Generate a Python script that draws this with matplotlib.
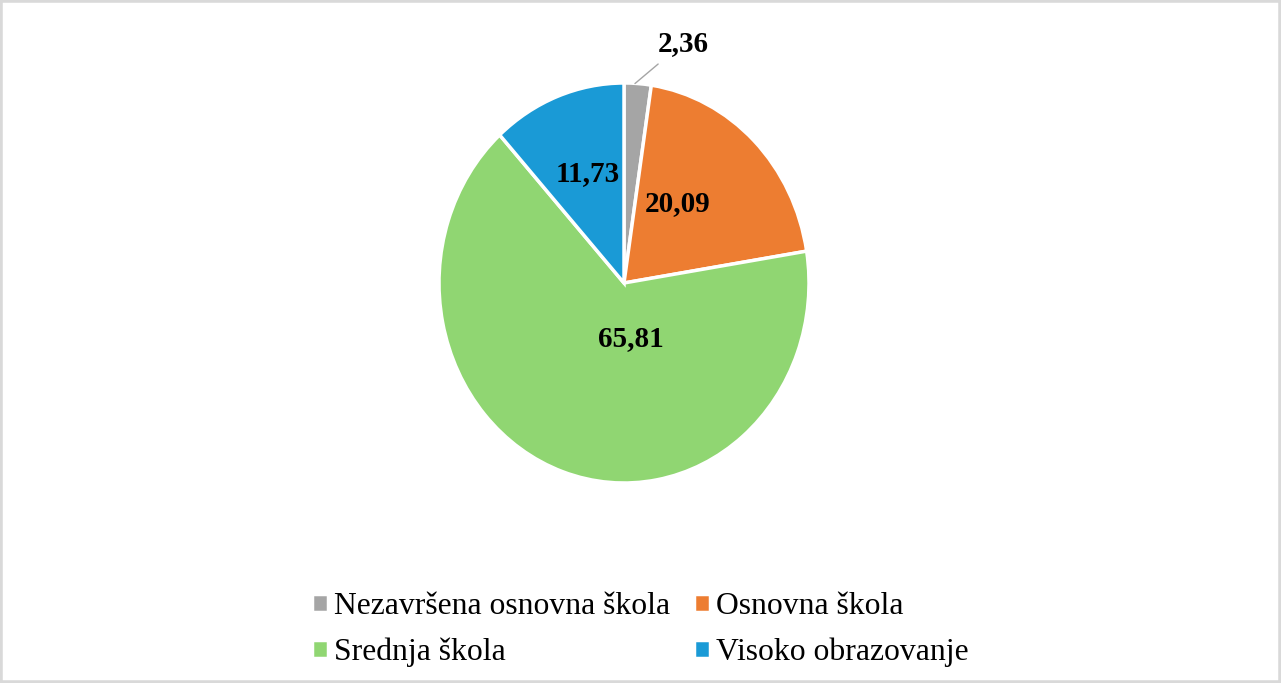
import numpy as np
import matplotlib.pyplot as plt
from matplotlib.patches import Rectangle

# podaci
categories = ['Nezavršena osnovna škola', 'Osnovna škola', 'Srednja škola', 'Visoko obrazovanje']
values = [2.36, 20.09, 65.81, 11.73]
value_labels = ['2,36', '20,09', '65,81', '11,73']
colors = ['#a5a5a5', '#ed7d31', '#90d672', '#1a9ad6']

plt.rcParams['font.family'] = ['Liberation Serif', 'DejaVu Serif']

fig = plt.figure(figsize=(12.81, 6.83), dpi=100)

# pie malo izdužen vertikalno kao na slici
ax = fig.add_axes([(624 - 185) / 1281, (683 - 483) / 683, 370 / 1281, 400 / 683])
wedges, _ = ax.pie(values, colors=colors, startangle=90, counterclock=False,
                   wedgeprops=dict(edgecolor='white', linewidth=2.5))
ax.set_aspect('auto')
ax.set_xlim(-1, 1)
ax.set_ylim(-1, 1)

# pozicije oznaka: radijus i pomak kuta u odnosu na sredinu isječka
label_r = [1.24, 0.495, 0.278, 0.579]
label_dang = [-10.6, 8.5, 27.0, -1.4]
for w, lab, r, da in zip(wedges, value_labels, label_r, label_dang):
    mid = (w.theta1 + w.theta2) / 2
    ang = np.deg2rad(mid + da)
    pos = (r * np.cos(ang), r * np.sin(ang))
    if r > 1:
        m = np.deg2rad(mid)
        ax.annotate(lab, xy=(0.8 * np.cos(m), np.sin(m)), xytext=pos,
                    ha='center', va='center', fontsize=21, fontweight='bold',
                    arrowprops=dict(arrowstyle='-', color='#a5a5a5', lw=1,
                                    shrinkA=5, shrinkB=0),
                    annotation_clip=False)
    else:
        ax.text(pos[0], pos[1], lab, ha='center', va='center',
                fontsize=21, fontweight='bold')

order = [0, 2, 1, 3]
fig.legend([wedges[i] for i in order], [categories[i] for i in order],
           ncol=2, loc='upper left', bbox_to_anchor=(312 / 1281, (683 - 592) / 683),
           frameon=False, fontsize=22.8, handlelength=0.5, handleheight=0.5,
           handletextpad=0.2, columnspacing=0.75, labelspacing=0.52,
           borderpad=0, borderaxespad=0)

# sivi okvir slike
fig.patches.append(Rectangle((0, 0), 1, 1, transform=fig.transFigure,
                             fill=False, edgecolor='#d9d9d9', linewidth=4))

fig.savefig('out.png', dpi=100)
